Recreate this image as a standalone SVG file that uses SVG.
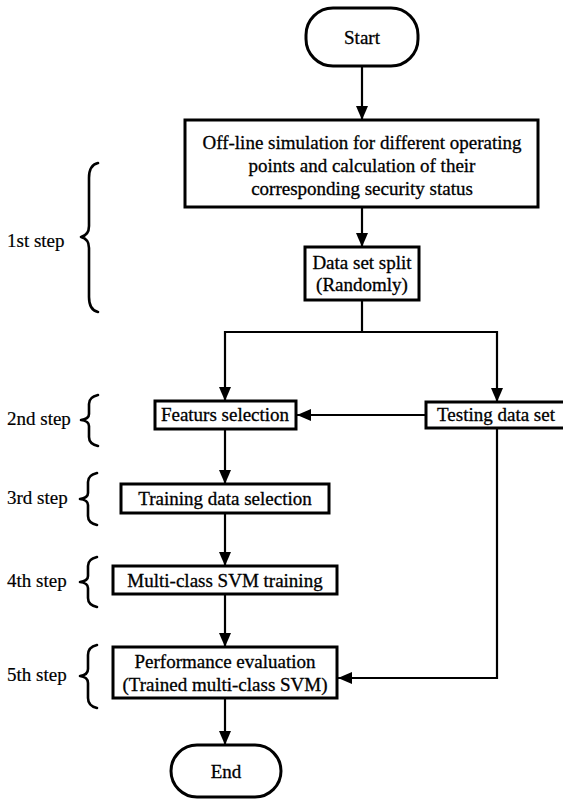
<svg xmlns="http://www.w3.org/2000/svg" width="563" height="799" viewBox="0 0 563 799">
<defs>
<marker id="ah" markerUnits="userSpaceOnUse" markerWidth="14" markerHeight="14" viewBox="0 0 14 14" refX="14" refY="7" orient="auto">
<path d="M0,1 L14,7 L0,13 Z" fill="#000"/>
</marker>
</defs>
<style>
.box{fill:#fff;stroke:#000;stroke-width:3}
text{font-family:'Liberation Serif','DejaVu Serif',serif;font-size:19px;fill:#000}
.t{text-anchor:middle;stroke:#000;stroke-width:0.3}
.lab{stroke:#000;stroke-width:0.2}
.c{fill:none;stroke:#000;stroke-width:2.2}
.br{fill:none;stroke:#000;stroke-width:2.6;stroke-linecap:round;stroke-linejoin:round}
</style>
<rect width="563" height="799" fill="#fff"/>
<g id="connectors">
<line class="c" x1="362" y1="66" x2="362" y2="120" marker-end="url(#ah)"/>
<line class="c" x1="362" y1="207" x2="362" y2="247" marker-end="url(#ah)"/>
<polyline class="c" points="362,300 362,332"/>
<polyline class="c" points="225,332 497,332"/>
<line class="c" x1="225" y1="331" x2="225" y2="401" marker-end="url(#ah)"/>
<line class="c" x1="497" y1="331" x2="497" y2="402" marker-end="url(#ah)"/>
<line class="c" x1="426" y1="415" x2="297" y2="415" marker-end="url(#ah)"/>
<line class="c" x1="225" y1="429" x2="225" y2="484" marker-end="url(#ah)"/>
<line class="c" x1="225" y1="513" x2="225" y2="566" marker-end="url(#ah)"/>
<line class="c" x1="225" y1="594" x2="225" y2="647" marker-end="url(#ah)"/>
<polyline class="c" points="497,428 497,678 338,678" marker-end="url(#ah)"/>
<line class="c" x1="225" y1="698" x2="225" y2="745" marker-end="url(#ah)"/>
</g>
<g id="start">
<rect class="box" x="306" y="8" width="112" height="58" rx="27" ry="27" stroke-width="2.5"/>
<text class="t" x="362" y="44" font-family="Liberation Serif, serif">Start</text>
</g>
<g id="simulation">
<rect class="box" x="185" y="120" width="353" height="87"/>
<text class="t" x="362" y="149" font-family="Liberation Serif, serif">Off-line simulation for different operating</text>
<text class="t" x="362" y="172" font-family="Liberation Serif, serif">points and calculation of their</text>
<text class="t" x="362" y="195" font-family="Liberation Serif, serif">corresponding security status</text>
</g>
<g id="split">
<rect class="box" x="305" y="247" width="114" height="53"/>
<text class="t" x="362" y="269" font-family="Liberation Serif, serif">Data set split</text>
<text class="t" x="362" y="291" font-family="Liberation Serif, serif">(Randomly)</text>
</g>
<g id="features">
<rect class="box" x="155" y="401" width="141" height="28"/>
<text class="t" x="225" y="421" font-family="Liberation Serif, serif">Featurs selection</text>
</g>
<g id="testing">
<rect class="box" x="426" y="402" width="145" height="26"/>
<text class="t" x="496" y="421" font-family="Liberation Serif, serif">Testing data set</text>
</g>
<g id="training-data">
<rect class="box" x="121" y="484" width="208" height="29"/>
<text class="t" x="225" y="505" font-family="Liberation Serif, serif">Training data selection</text>
</g>
<g id="svm-training">
<rect class="box" x="113" y="566" width="224" height="28"/>
<text class="t" x="225" y="587" font-family="Liberation Serif, serif">Multi-class SVM training</text>
</g>
<g id="evaluation">
<rect class="box" x="113" y="647" width="224" height="51"/>
<text class="t" x="225" y="668" font-family="Liberation Serif, serif">Performance evaluation</text>
<text class="t" x="225" y="691" font-family="Liberation Serif, serif">(Trained multi-class SVM)</text>
</g>
<g id="end">
<rect class="box" x="171" y="745" width="110" height="52" rx="26" ry="26" stroke-width="2.5"/>
<text class="t" x="226" y="778" font-family="Liberation Serif, serif">End</text>
</g>
<g id="steps">
<text class="lab" x="7" y="247" font-family="Liberation Serif, serif">1st step</text>
<path class="br" d="M98,163 Q89,165 89,178 L89,226 Q89,235 81,237 Q89,239 89,248 L89,297 Q89,310 98,312"/>
<text class="lab" x="7" y="425" font-family="Liberation Serif, serif">2nd step</text>
<path class="br" d="M98,395 Q89,397 89,404 L89,414 Q89,419 81,420 Q89,421 89,426 L89,437 Q89,444 98,446"/>
<text class="lab" x="7" y="504" font-family="Liberation Serif, serif">3rd step</text>
<path class="br" d="M97,473 Q88,475 88,482 L88,493 Q88,498 80,499 Q88,500 88,505 L88,516 Q88,523 97,525"/>
<text class="lab" x="7" y="587" font-family="Liberation Serif, serif">4th step</text>
<path class="br" d="M97,557 Q88,559 88,566 L88,576 Q88,581 80,582 Q88,583 88,588 L88,598 Q88,605 97,607"/>
<text class="lab" x="7" y="681" font-family="Liberation Serif, serif">5th step</text>
<path class="br" d="M97,645 Q88,647 88,655 L88,669 Q88,675 80,676 Q88,677 88,683 L88,698 Q88,706 97,708"/>
</g>
</svg>
